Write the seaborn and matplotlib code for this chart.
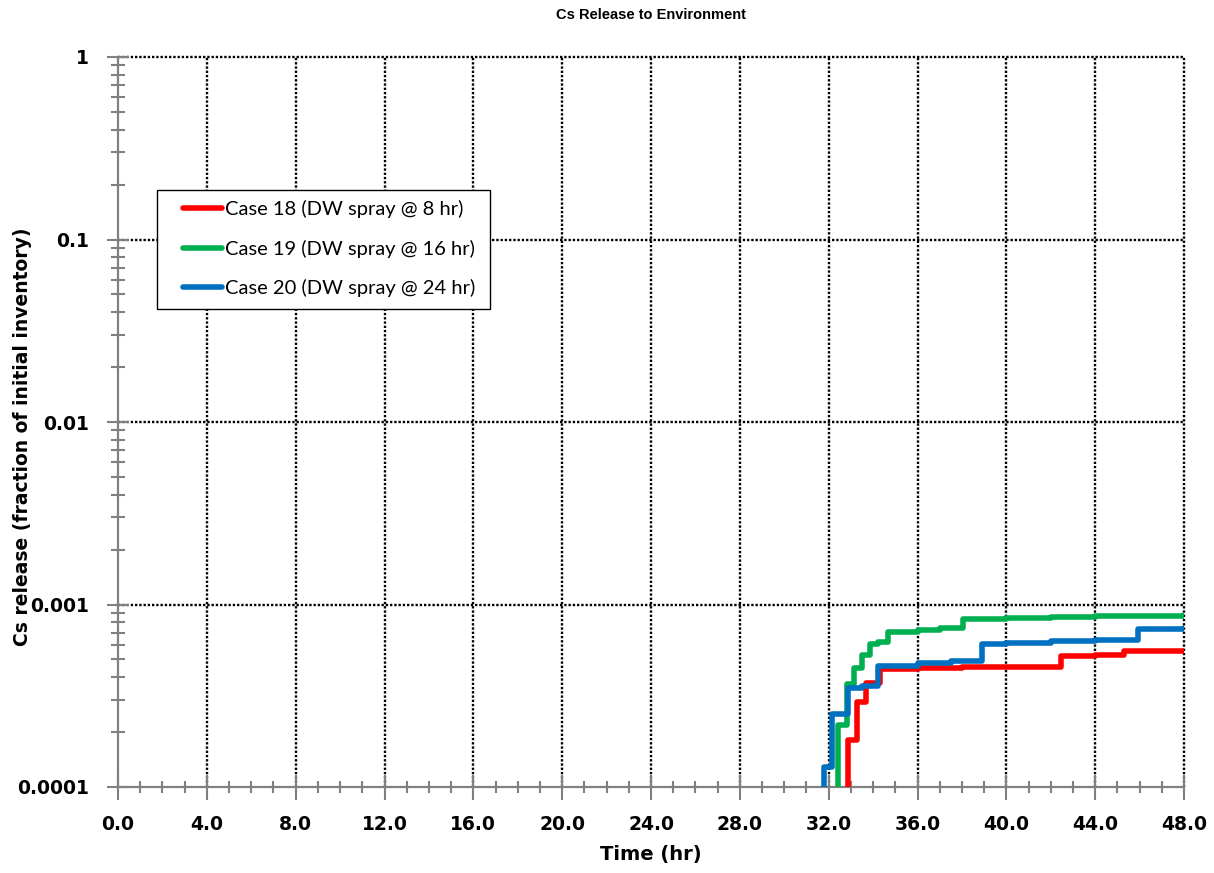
import numpy as np
import pandas as pd
import matplotlib
matplotlib.use("Agg")
import matplotlib.pyplot as plt
from matplotlib.ticker import MultipleLocator, LogLocator, NullFormatter
from matplotlib.patches import Rectangle
from matplotlib.lines import Line2D
import seaborn as sns

# ---- data -------------------------------------------------------------
case_labels = ["Case 18 (DW spray @ 8 hr)",
               "Case 19 (DW spray @ 16 hr)",
               "Case 20 (DW spray @ 24 hr)"]
case_colors = ["#FF0000", "#00B050", "#0070C0"]

# cumulative Cs release (fraction of initial inventory), stepwise in time (hr)
time_case18 = [0.0, 32.88, 33.26, 33.68, 34.31, 36.0, 38.0, 40.0, 42.45, 44.0, 45.3, 48.0]
release_case18 = [1e-6, 1.82e-4, 2.93e-4, 3.72e-4, 4.42e-4, 4.48e-4, 4.52e-4,
                  4.56e-4, 5.20e-4, 5.28e-4, 5.55e-4, 5.55e-4]

time_case19 = [0.0, 32.43, 32.81, 33.14, 33.48, 33.88, 34.2, 34.67, 36.0, 37.0,
               38.07, 40.0, 42.0, 44.0, 46.0, 48.0]
release_case19 = [1e-6, 2.20e-4, 3.65e-4, 4.46e-4, 5.28e-4, 6.08e-4, 6.25e-4,
                  7.10e-4, 7.28e-4, 7.40e-4, 8.30e-4, 8.42e-4, 8.52e-4, 8.62e-4,
                  8.70e-4, 8.74e-4]

time_case20 = [0.0, 31.79, 32.16, 32.85, 33.5, 34.23, 36.0, 37.5, 38.9, 40.0,
               42.0, 44.0, 45.92, 48.0]
release_case20 = [1e-6, 1.28e-4, 2.51e-4, 3.47e-4, 3.58e-4, 4.60e-4, 4.78e-4,
                  4.88e-4, 6.08e-4, 6.15e-4, 6.30e-4, 6.43e-4, 7.36e-4, 7.40e-4]

x_ticks = [0, 4, 8, 12, 16, 20, 24, 28, 32, 36, 40, 44, 48]
y_ticks = [1e-4, 1e-3, 1e-2, 1e-1, 1]
y_tick_labels = ["0.0001", "0.001", "0.01", "0.1", "1"]

frames = []
for lab, t, r in [(case_labels[0], time_case18, release_case18),
                  (case_labels[1], time_case19, release_case19),
                  (case_labels[2], time_case20, release_case20)]:
    frames.append(pd.DataFrame({"Time (hr)": t, "release": r, "case": lab}))
df = pd.concat(frames, ignore_index=True)

# ---- figure -----------------------------------------------------------
sns.set_theme(style="white")
plt.rcParams["font.family"] = ["DejaVu Sans"]
plt.rcParams["text.color"] = "black"
plt.rcParams["axes.labelcolor"] = "black"

fig = plt.figure(figsize=(12.14, 8.73), dpi=100)
ax = fig.add_axes([118 / 1214, 1 - 787 / 873, 1066 / 1214, 730 / 873])

sns.lineplot(data=df, x="Time (hr)", y="release", hue="case",
             hue_order=case_labels, palette=case_colors,
             estimator=None, sort=False, drawstyle="steps-post",
             linewidth=4.0, legend=False, ax=ax, zorder=3)

ax.set_yscale("log")
ax.set_xlim(0, 48)
ax.set_ylim(1e-4, 1)

ax.set_xticks(x_ticks)
ax.set_xticklabels([f"{v:.1f}" for v in x_ticks])
ax.set_yticks(y_ticks)
ax.set_yticklabels(y_tick_labels)
ax.xaxis.set_minor_locator(MultipleLocator(1))
ax.yaxis.set_minor_locator(LogLocator(base=10, subs=np.arange(2, 10)))
ax.yaxis.set_minor_formatter(NullFormatter())

for lbl in ax.get_xticklabels() + ax.get_yticklabels():
    lbl.set_fontweight("bold")
    lbl.set_fontsize(13.5)
    lbl.set_color("black")

ax.tick_params(axis="x", which="major", direction="inout", length=18,
               width=1.5, color="#808080", pad=11, bottom=True)
ax.tick_params(axis="x", which="minor", direction="inout", length=9,
               width=1.5, color="#808080", bottom=True)
ax.tick_params(axis="y", which="major", direction="inout", length=16,
               width=1.5, color="#808080", pad=13, left=True)
ax.tick_params(axis="y", which="minor", direction="inout", length=9.5,
               width=1.5, color="#808080", left=True)

# dotted major grid (the lines on the top and right edges stay unclipped;
# the ones lying on the solid axes are hidden)
ax.grid(True, which="major", color="black", linestyle=(0, (1, 0.8)), linewidth=1.7)
ax.grid(False, which="minor")
xgl = ax.get_xgridlines()
ygl = ax.get_ygridlines()
for gl in xgl + ygl:
    gl.set_clip_on(False)
xgl[0].set_visible(False)
ygl[0].set_visible(False)
ax.set_axisbelow(True)

for side in ["top", "right"]:
    ax.spines[side].set_visible(False)
for side in ["left", "bottom"]:
    ax.spines[side].set_color("#808080")
    ax.spines[side].set_linewidth(1.6)
    ax.spines[side].set_zorder(2.5)

ax.set_xlabel("Time (hr)", fontsize=14, fontweight="bold", labelpad=8,
              color="black")
ax.set_ylabel("Cs release (fraction of initial inventory)", fontsize=13.5,
              fontweight="bold", color="black")
ax.yaxis.set_label_coords(-0.0807, 0.48)

fig.text(651 / 1214, 1 - 15 / 873, "Cs Release to Environment",
         ha="center", va="center", fontsize=10.5, fontweight="bold",
         color="black", family=["Liberation Sans", "DejaVu Sans"])

# legend box and entries
box = Rectangle(((157 - 118) / 1066, (787 - 309) / 730), 333 / 1066, 119 / 730,
                transform=ax.transAxes, facecolor="white", edgecolor="black",
                linewidth=1.0, zorder=4)
ax.add_patch(box)
handles = [Line2D([], [], color=c, linewidth=4.0) for c in case_colors]
leg = ax.legend(handles, case_labels, loc="upper left",
                bbox_to_anchor=((183 - 118) / 1066, (787 - 200) / 730),
                borderaxespad=0, borderpad=0, frameon=False,
                handlelength=1.95, handletextpad=0.15, labelspacing=1.07,
                prop={"family": "Lato", "size": 14.5})
for txt in leg.get_texts():
    txt.set_color("black")
leg.set_zorder(5)

fig.savefig("out.png", dpi=100)
